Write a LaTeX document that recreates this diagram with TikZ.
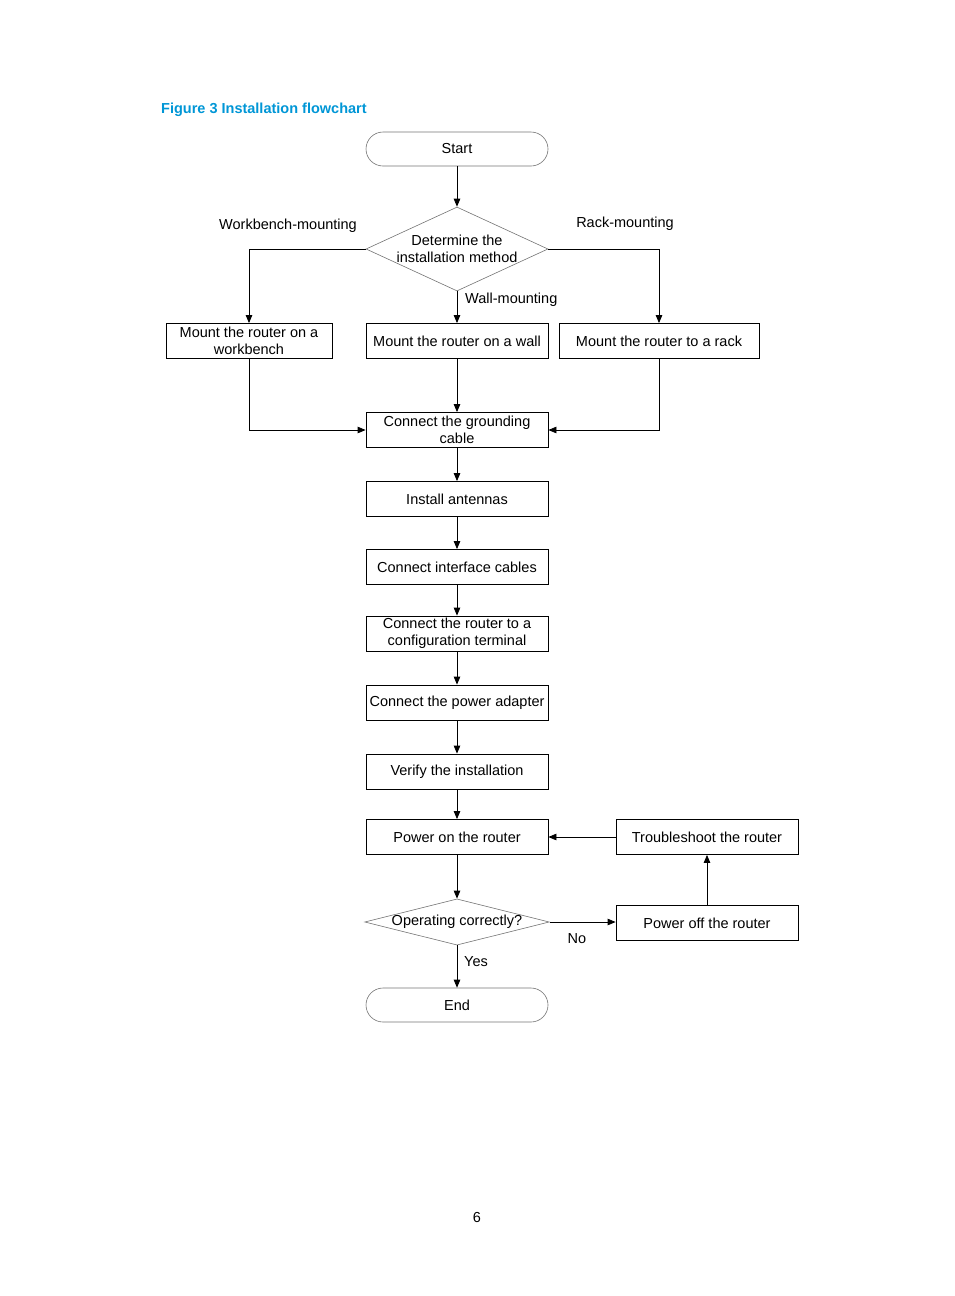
\documentclass[tikz,border=0pt]{standalone}
\usepackage{fontspec}
\setmainfont{Liberation Sans}
\usetikzlibrary{shapes.geometric,arrows.meta}
\definecolor{hpblue}{RGB}{0,150,214}
\begin{document}
\begin{tikzpicture}[x=1pt,y=-1pt,
  every node/.style={font=\fontsize{14.5}{17}\selectfont},
  box/.style={draw=black,line width=0.8pt,minimum width=182pt,minimum height=35pt,inner sep=1pt,align=center},
  term/.style={draw=black!55,line width=0.6pt,rounded corners=17pt,minimum width=182pt,minimum height=34pt},
  dia/.style={draw=black!55,line width=0.6pt,diamond,aspect=2.17,inner sep=0pt,align=center},
  arr/.style={draw,line width=0.8pt,-{Triangle[length=8pt,width=6.5pt]}},
  lbl/.style={inner sep=0pt}]
\useasboundingbox (0,0) rectangle (954,1296);
\node[anchor=west,inner sep=0pt,text=hpblue,font=\fontsize{14.5}{17}\selectfont\bfseries] (title) at (161,110) {Figure 3 Installation flowchart};
\node[term] (start) at (457,149) {Start};
\node[dia,minimum width=182pt,minimum height=84pt] (d1) at (457,249) {Determine the\\installation method};
\node[box,minimum width=166pt] (wb) at (249,341) {Mount the router on a\\workbench};
\node[box] (wall) at (457,341) {Mount the router on a wall};
\node[box,minimum width=200pt] (rack) at (659,341) {Mount the router to a rack};
\node[box] (gnd) at (457,430) {Connect the grounding\\cable};
\node[box] (ant) at (457,499) {Install antennas};
\node[box] (ifc) at (457,567) {Connect interface cables};
\node[box] (cfg) at (457,633.5) {Connect the router to a\\configuration terminal};
\node[box] (pwr) at (457,702.5) {Connect the power adapter};
\node[box] (ver) at (457,771.5) {Verify the installation};
\node[box] (on) at (457,837) {Power on the router};
\node[box] (ts) at (707,837) {Troubleshoot the router};
\node[dia,minimum width=182pt,minimum height=45pt,aspect=4] (d2) at (457,922) {Operating correctly?};
\node[box] (off) at (707,923) {Power off the router};
\node[term] (end) at (457,1005) {End};
\node[lbl] (lw) at (288,226) {Workbench-mounting};
\node[lbl] (lr) at (625,224) {Rack-mounting};
\node[lbl,anchor=west] (lwall) at (465,300) {Wall-mounting};
\node[lbl] (lno) at (577,939) {No};
\node[lbl] (lyes) at (476,962) {Yes};
\node[lbl] (pg) at (477,1217) {6};
\coordinate (c1) at (249,249);
\coordinate (c2) at (659,249);
\coordinate (c3) at (249,430);
\coordinate (c4) at (659,430);
\draw[arr] (start) -- (d1);
\draw[arr] (d1.west) -- (c1) -- (wb);
\draw[arr] (d1.east) -- (c2) -- (rack);
\draw[arr] (d1) -- (wall);
\draw[arr] (wb) -- (c3) -- (gnd);
\draw[arr] (rack) -- (c4) -- (gnd);
\draw[arr] (wall) -- (gnd);
\draw[arr] (gnd) -- (ant);
\draw[arr] (ant) -- (ifc);
\draw[arr] (ifc) -- (cfg);
\draw[arr] (cfg) -- (pwr);
\draw[arr] (pwr) -- (ver);
\draw[arr] (ver) -- (on);
\draw[arr] (on) -- (d2);
\draw[arr] (d2) -- (end);
\draw[arr] (d2.east) -- (d2.east -| off.west);
\draw[arr] (off) -- (ts);
\draw[arr] (ts) -- (on);
\end{tikzpicture}
\end{document}
